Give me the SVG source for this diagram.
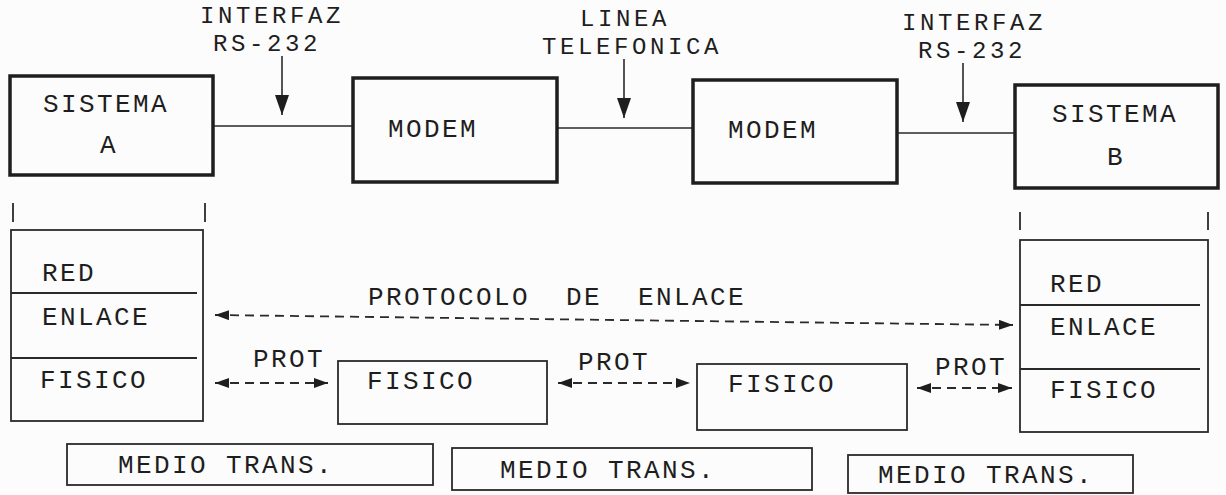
<svg xmlns="http://www.w3.org/2000/svg" width="1226" height="495" viewBox="0 0 1226 495">
  <defs>
    <style>
      text { font-family: "Liberation Mono", "DejaVu Sans Mono", monospace; font-size: 26px; letter-spacing: 2.4px; fill: #1e1e1e; white-space: pre; }
      text.top { font-size: 24px; letter-spacing: 3.6px; }
      .thick { fill: none; stroke: #1e1e1e; stroke-width: 3.5; }
      .thin { fill: none; stroke: #2a2a2a; stroke-width: 1.8; }
      .link { fill: none; stroke: #2a2a2a; stroke-width: 1.6; }
      .down { fill: none; stroke: #2a2a2a; stroke-width: 1.6; marker-end: url(#ahd); }
      .dash { fill: none; stroke: #2a2a2a; stroke-width: 1.8; stroke-dasharray: 9 6; marker-start: url(#ah); marker-end: url(#ah); }
    </style>
    <marker id="ah" viewBox="0 0 14 10" refX="14" refY="5" markerWidth="14" markerHeight="10" markerUnits="userSpaceOnUse" orient="auto-start-reverse">
      <path d="M0,0 L14,5 L0,10 z" fill="#1e1e1e"/>
    </marker>
    <marker id="ahd" viewBox="0 0 20 14" refX="20" refY="7" markerWidth="20" markerHeight="14" markerUnits="userSpaceOnUse" orient="auto">
      <path d="M0,0 L20,7 L0,14 z" fill="#1e1e1e"/>
    </marker>
  </defs>
  <rect width="1226" height="495" fill="#fcfcfc"/>

  <g id="connectors">
    <line class="link" x1="213" y1="126" x2="353" y2="126"/>
    <line class="link" x1="557" y1="128" x2="693" y2="128"/>
    <line class="link" x1="897" y1="133" x2="1015" y2="133"/>
    <line class="down" x1="282" y1="56" x2="282" y2="115"/>
    <line class="down" x1="624" y1="59" x2="624" y2="118"/>
    <line class="down" x1="963" y1="63" x2="963" y2="122"/>
    <line class="dash" x1="215" y1="315" x2="1013" y2="325"/>
    <line class="dash" x1="215" y1="383" x2="328" y2="383"/>
    <line class="dash" x1="558" y1="383" x2="690" y2="383"/>
    <line class="dash" x1="917" y1="388" x2="1012" y2="388"/>
  </g>

  <g id="labels">
    <text class="top" x="200" y="23">INTERFAZ</text>
    <text class="top" x="213" y="51">RS-232</text>
    <text class="top" x="580" y="26">LINEA</text>
    <text class="top" x="542" y="54">TELEFONICA</text>
    <text class="top" x="902" y="30">INTERFAZ</text>
    <text class="top" x="918" y="58">RS-232</text>
    <text x="368" y="305">PROTOCOLO  DE  ENLACE</text>
    <text x="253" y="367">PROT</text>
    <text x="578" y="370">PROT</text>
    <text x="935" y="375">PROT</text>
  </g>

  <g id="sistema-a">
    <rect class="thick" x="10" y="76" width="203" height="99"/>
    <text x="43" y="112">SISTEMA</text>
    <text x="100" y="153">A</text>
  </g>

  <g id="modem-1">
    <rect class="thick" x="353" y="78" width="204" height="104"/>
    <text x="388" y="137">MODEM</text>
  </g>

  <g id="modem-2">
    <rect class="thick" x="693" y="80" width="204" height="103"/>
    <text x="728" y="138">MODEM</text>
  </g>

  <g id="sistema-b">
    <rect class="thick" x="1015" y="85" width="203" height="103"/>
    <text x="1052" y="122">SISTEMA</text>
    <text x="1107" y="165">B</text>
  </g>

  <g id="stack-a">
    <line class="thin" x1="13" y1="203" x2="13" y2="222"/>
    <line class="thin" x1="205" y1="203" x2="205" y2="222"/>
    <rect class="thin" x="11" y="230" width="192" height="191"/>
    <line class="thin" x1="11" y1="293" x2="197" y2="293"/>
    <line class="thin" x1="11" y1="358" x2="197" y2="358"/>
    <text x="42" y="281">RED</text>
    <text x="42" y="325">ENLACE</text>
    <text x="40" y="388">FISICO</text>
  </g>

  <g id="fisico-1">
    <rect class="thin" x="338" y="361" width="209" height="63"/>
    <text x="367" y="389">FISICO</text>
  </g>

  <g id="fisico-2">
    <rect class="thin" x="697" y="364" width="210" height="66"/>
    <text x="728" y="392">FISICO</text>
  </g>

  <g id="stack-b">
    <line class="thin" x1="1020" y1="212" x2="1020" y2="230"/>
    <line class="thin" x1="1208" y1="212" x2="1208" y2="230"/>
    <rect class="thin" x="1020" y="240" width="188" height="192"/>
    <line class="thin" x1="1020" y1="305" x2="1200" y2="305"/>
    <line class="thin" x1="1020" y1="369" x2="1200" y2="369"/>
    <text x="1050" y="292">RED</text>
    <text x="1050" y="335">ENLACE</text>
    <text x="1050" y="398">FISICO</text>
  </g>

  <g id="medio-1">
    <rect class="thin" x="67" y="444" width="366" height="41"/>
    <text x="118" y="473">MEDIO TRANS.</text>
  </g>

  <g id="medio-2">
    <rect class="thin" x="452" y="448" width="360" height="42"/>
    <text x="500" y="478">MEDIO TRANS.</text>
  </g>

  <g id="medio-3">
    <rect class="thin" x="848" y="455" width="285" height="38"/>
    <text x="878" y="483">MEDIO TRANS.</text>
  </g>
</svg>
